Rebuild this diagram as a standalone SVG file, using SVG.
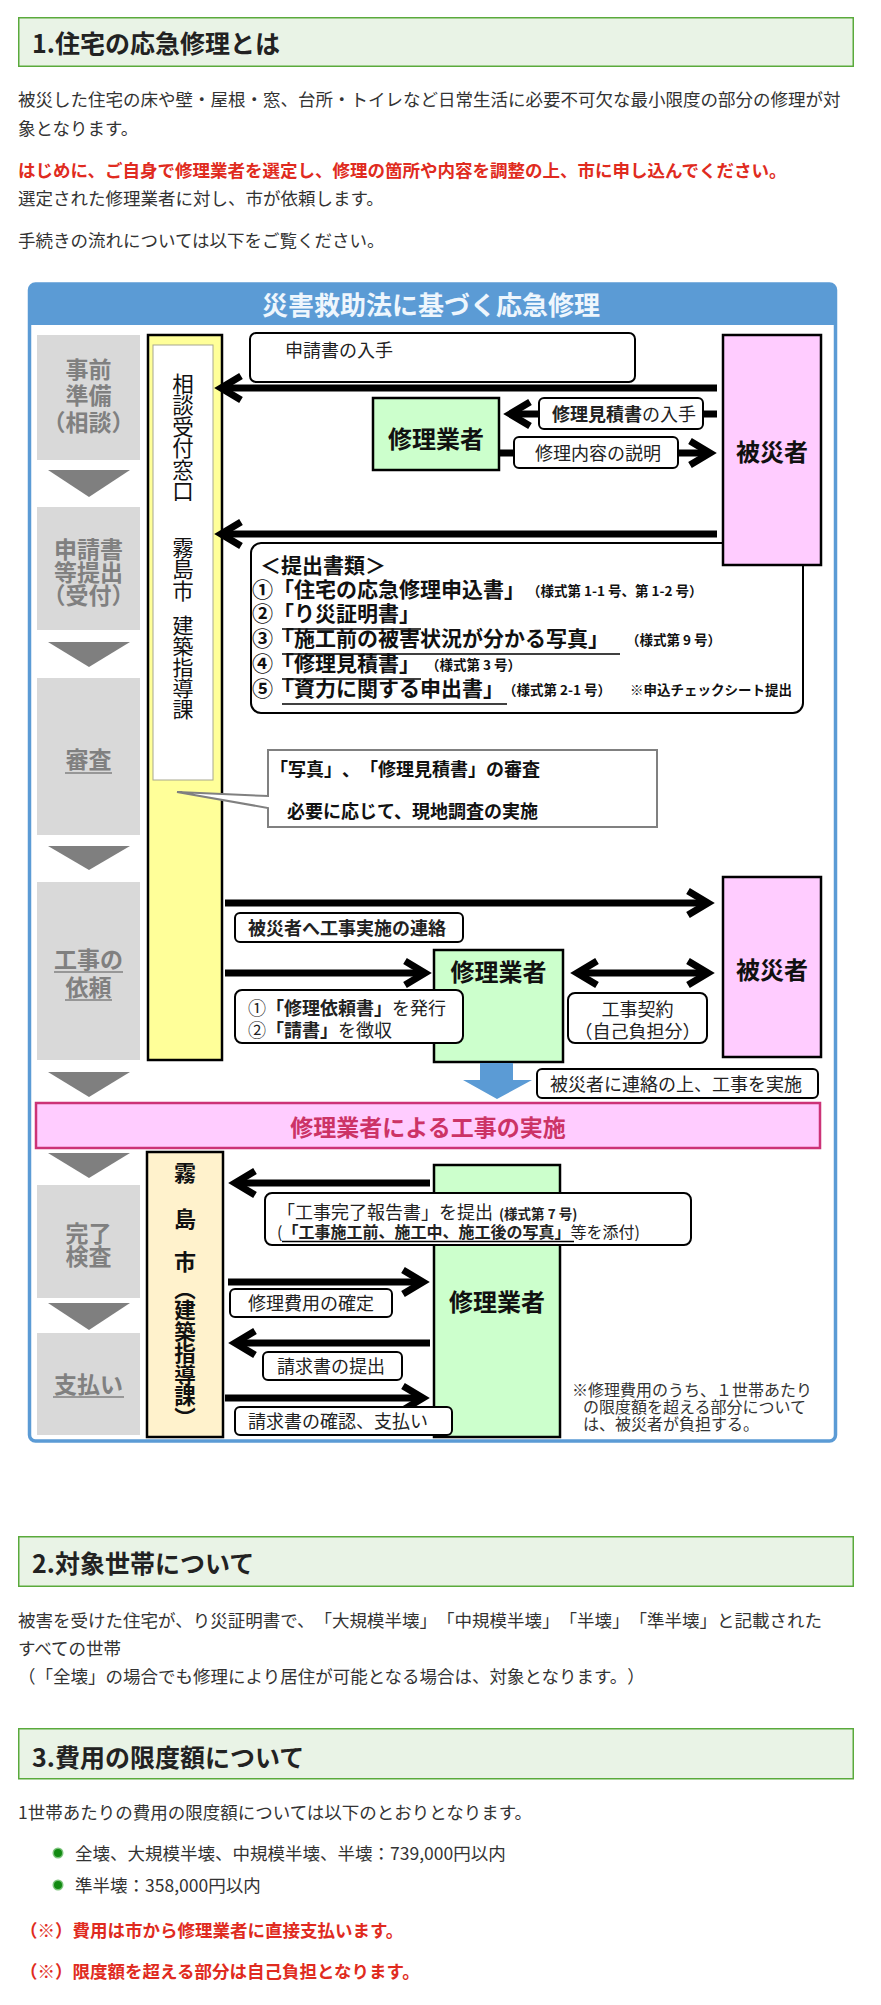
<svg xmlns="http://www.w3.org/2000/svg" width="881" height="2005" viewBox="0 0 881 2005">
<style>
text{font-family:"Noto Sans CJK JP","Noto Sans CJK SC",sans-serif;text-spacing-trim:space-all;}
.body{font-size:17.5px;fill:#333;}
.red{font-size:17.5px;fill:#e02b20;font-weight:700;}
.h{font-size:25px;font-weight:700;fill:#222;}
.hbox{fill:#e9f3e6;stroke:#5aaa3c;stroke-width:1.5;}
.step{fill:#d9d9d9;}
.steptx{font-size:23px;font-weight:700;fill:#808080;text-anchor:middle;}
.sul{stroke:#808080;stroke-width:1.6;}
.tri{fill:#7f7f7f;}
.lbl{fill:#fff;stroke:#000;stroke-width:2;}
.lt{font-size:18px;fill:#222;}
.b{font-weight:700;}
.conn{fill:none;stroke:#000;stroke-width:7;}
.green{fill:#ccffcc;stroke:#000;stroke-width:2.5;}
.pink{fill:#ffccff;stroke:#000;stroke-width:2.5;}
.actor{font-size:24px;font-weight:700;fill:#111;text-anchor:middle;}
.vt{writing-mode:vertical-rl;fill:#111;}
.doc{font-size:21px;font-weight:700;fill:#111;}
.sm{font-size:13.5px;font-weight:700;fill:#111;}
.ul{stroke:#000;stroke-width:1.6;}
.note{font-size:16px;fill:#333;}
</style>
<defs>
<marker id="ah" markerUnits="userSpaceOnUse" viewBox="-24 -18 36 36" refX="0" refY="0" markerWidth="36" markerHeight="36" orient="auto-start-reverse">
<path d="M-17,-12 L3,0 L-17,12" fill="none" stroke="#000" stroke-width="7"/>
</marker>
</defs>
<rect width="881" height="2005" fill="#fff"/>

<g id="section1">
<rect class="hbox" x="18.75" y="17.75" width="834.5" height="48.5"/>
<text class="h" x="32" y="53">1.住宅の応急修理とは</text>
<text class="body" x="18" y="106">被災した住宅の床や壁・屋根・窓、台所・トイレなど日常生活に必要不可欠な最小限度の部分の修理が対</text>
<text class="body" x="18" y="135">象となります。</text>
<text class="red" x="18" y="177">はじめに、ご自身で修理業者を選定し、修理の箇所や内容を調整の上、市に申し込んでください。</text>
<text class="body" x="18" y="205">選定された修理業者に対し、市が依頼します。</text>
<text class="body" x="18" y="247">手続きの流れについては以下をご覧ください。</text>
</g>

<g id="frame">
<rect x="29.5" y="284" width="806" height="1157" rx="6" fill="#fff" stroke="#5b9bd5" stroke-width="3.5"/>
<path d="M29.5,325 V290 Q29.5,284 35.5,284 H829.5 Q835.5,284 835.5,290 V325 Z" fill="#5b9bd5"/>
<text x="431" y="315" font-size="26" font-weight="700" fill="#eef6fd" text-anchor="middle">災害救助法に基づく応急修理</text>
</g>

<g id="steps">
<rect class="step" x="37" y="335" width="103" height="125"/>
<text class="steptx" x="88.5" y="378">事前</text>
<text class="steptx" x="88.5" y="404">準備</text>
<text class="steptx" x="88.5" y="431">（相談）</text>
<polygon class="tri" points="48,470 130,470 89,497"/>
<rect class="step" x="37" y="507" width="103" height="123"/>
<text class="steptx" x="88.5" y="558">申請書</text>
<text class="steptx" x="88.5" y="581">等提出</text>
<text class="steptx" x="88.5" y="604">（受付）</text>
<polygon class="tri" points="48,642 130,642 89,667"/>
<rect class="step" x="37" y="678" width="103" height="157"/>
<text class="steptx" x="88.5" y="768">審査</text>
<line class="sul" x1="65" y1="773" x2="112" y2="773"/>
<polygon class="tri" points="48,846 130,846 89,870"/>
<rect class="step" x="37" y="882" width="103" height="178"/>
<text class="steptx" x="88.5" y="968">工事の</text>
<line class="sul" x1="54" y1="972" x2="123" y2="972"/>
<text class="steptx" x="88.5" y="996">依頼</text>
<line class="sul" x1="65" y1="1000" x2="112" y2="1000"/>
<polygon class="tri" points="48,1072 130,1072 89,1097"/>
<polygon class="tri" points="48,1153 130,1153 89,1178"/>
<rect class="step" x="37" y="1185" width="103" height="113"/>
<text class="steptx" x="88.5" y="1242">完了</text>
<text class="steptx" x="88.5" y="1265">検査</text>
<polygon class="tri" points="48,1303 130,1303 89,1330"/>
<rect class="step" x="37" y="1333" width="103" height="102"/>
<text class="steptx" x="88.5" y="1393">支払い</text>
<line class="sul" x1="53" y1="1397" x2="124" y2="1397"/>
</g>

<g id="window-column">
<rect x="148" y="335" width="74" height="725" fill="#ffff99" stroke="#000" stroke-width="2.5"/>
<rect x="153" y="345" width="60" height="435" fill="#fff" stroke="#a8a890" stroke-width="1"/>
<text class="vt" x="183" y="373" font-size="21.5">相談受付窓口</text>
<text class="vt" x="183" y="537" font-size="21.5">霧島市</text>
<text class="vt" x="183" y="615" font-size="21">建築指導課</text>
</g>

<g id="city-column">
<rect x="147" y="1152" width="76" height="285" fill="#fff2cc" stroke="#000" stroke-width="2.5"/>
<text class="vt" x="185" y="1162" font-size="22" font-weight="700">霧</text>
<text class="vt" x="185" y="1208" font-size="22" font-weight="700">島</text>
<text class="vt" x="185" y="1251" font-size="22" font-weight="700">市</text>
<text class="vt" x="185" y="1278" font-size="21.5" font-weight="700">（建築指導課）</text>
</g>

<g id="contractor-1">
<rect class="green" x="373" y="398" width="126" height="72"/>
<text class="actor" x="436" y="448">修理業者</text>
</g>
<g id="contractor-2">
<rect class="green" x="434" y="950" width="129" height="112"/>
<text class="actor" x="498.5" y="981">修理業者</text>
</g>
<g id="victim-2">
<rect class="pink" x="723" y="877" width="98" height="180"/>
<text class="actor" x="772" y="979">被災者</text>
</g>
<g id="contractor-3">
<rect class="green" x="434" y="1165" width="126" height="272"/>
<text class="actor" x="497" y="1311">修理業者</text>
</g>

<g id="docs">
<rect x="251" y="543" width="552" height="170" rx="10" fill="#fff" stroke="#000" stroke-width="2"/>
<text class="doc" x="260" y="573">＜提出書類＞</text>
<text class="doc" x="252" y="597">①「住宅の応急修理申込書」</text>
<text class="sm" x="527" y="596">（様式第 1-1 号、第 1-2 号）</text>
<text class="doc" x="252" y="621">②「り災証明書」</text>
<line class="ul" x1="282" y1="629" x2="421" y2="629"/>
<text class="doc" x="252" y="646">③「施工前の被害状況が分かる写真」</text>
<line class="ul" x1="282" y1="654" x2="620" y2="654"/>
<text class="sm" x="626" y="645">（様式第 9 号）</text>
<text class="doc" x="252" y="671">④「修理見積書」</text>
<line class="ul" x1="282" y1="679" x2="421" y2="679"/>
<text class="sm" x="426" y="670">（様式第 3 号）</text>
<text class="doc" x="252" y="696">⑤「資力に関する申出書」</text>
<line class="ul" x1="282" y1="704" x2="507" y2="704"/>
<text class="sm" x="503" y="695">（様式第 2-1 号）</text>
<text class="sm" x="630" y="695">※申込チェックシート提出</text>
</g>
<g id="victim-1">
<rect class="pink" x="723" y="335" width="98" height="230"/>
<text class="actor" x="772" y="461">被災者</text>
</g>

<g id="callout">
<path d="M268,750 H657 V827 H268 V808 L177,792 L268,796 Z" fill="#fff" stroke="#808080" stroke-width="2"/>
<text x="270" y="776" font-size="18" font-weight="700" fill="#111">「写真」、「修理見積書」の審査</text>
<text x="287" y="818" font-size="18" font-weight="700" fill="#111">必要に応じて、現地調査の実施</text>
</g>

<g id="connectors">
<path class="conn" d="M717,388 H224" marker-end="url(#ah)"/>
<path class="conn" d="M717,414 H513" marker-end="url(#ah)"/>
<path class="conn" d="M500,453 H707" marker-end="url(#ah)"/>
<path class="conn" d="M717,534 H224" marker-end="url(#ah)"/>
<path class="conn" d="M225,903 H705" marker-end="url(#ah)"/>
<path class="conn" d="M225,973 H422" marker-end="url(#ah)"/>
<path class="conn" d="M580,973 H705" marker-start="url(#ah)" marker-end="url(#ah)"/>
<polygon points="480,1063 513,1063 513,1080 532,1080 497,1099 463,1080 480,1080" fill="#5b9bd5"/>
<path class="conn" d="M430,1183 H238" marker-end="url(#ah)"/>
<path class="conn" d="M228,1282 H420" marker-end="url(#ah)"/>
<path class="conn" d="M430,1343 H238" marker-end="url(#ah)"/>
<path class="conn" d="M225,1398 H420" marker-end="url(#ah)"/>
</g>

<g id="label-obtain">
<rect class="lbl" x="250" y="333" width="385" height="49" rx="6"/>
<text class="lt" x="285" y="357">申請書の入手</text>
</g>
<g id="label-estimate">
<rect class="lbl" x="539" y="398" width="164" height="31" rx="5"/>
<text class="lt" x="552" y="421"><tspan class="b">修理見積書</tspan>の入手</text>
</g>
<g id="label-explain">
<rect class="lbl" x="514" y="437" width="164" height="31" rx="5"/>
<text class="lt" x="535" y="460">修理内容の説明</text>
</g>
<g id="label-notify">
<rect class="lbl" x="235" y="913" width="228" height="29" rx="5"/>
<text class="lt b" x="248" y="935">被災者へ工事実施の連絡</text>
</g>
<g id="label-order">
<rect class="lbl" x="235" y="990" width="228" height="53" rx="7"/>
<text class="lt" x="248" y="1015">①<tspan class="b">「修理依頼書」</tspan>を発行</text>
<text class="lt" x="248" y="1037">②<tspan class="b">「請書」</tspan>を徴収</text>
</g>
<g id="label-contract">
<rect class="lbl" x="568" y="993" width="139" height="50" rx="7"/>
<text class="lt" x="637.5" y="1016" text-anchor="middle">工事契約</text>
<text class="lt" x="637.5" y="1038" text-anchor="middle" font-size="17">（自己負担分）</text>
</g>
<g id="label-work">
<rect class="lbl" x="537" y="1069" width="281" height="29" rx="5"/>
<text class="lt" x="550" y="1091">被災者に連絡の上、工事を実施</text>
</g>

<g id="implementation-bar">
<rect x="36" y="1103" width="784" height="45" fill="#ffccff" stroke="#cc3377" stroke-width="2.5"/>
<text x="428" y="1136" font-size="23" font-weight="700" fill="#cc3366" text-anchor="middle">修理業者による工事の実施</text>
</g>

<g id="label-report">
<rect class="lbl" x="265" y="1193" width="426" height="52" rx="7"/>
<text class="lt" x="277" y="1219" font-size="17.5">「工事完了報告書」を提出<tspan class="b" font-size="13.5" dx="6">(様式第 7 号)</tspan></text>
<text x="277" y="1238" font-size="16" fill="#222">(<tspan class="b">「工事施工前、施工中、施工後の写真」</tspan>等を添付)</text>
<line class="ul" x1="282" y1="1241.5" x2="574" y2="1241.5"/>
</g>
<g id="label-cost">
<rect class="lbl" x="230" y="1289" width="162" height="28" rx="5"/>
<text class="lt" x="248" y="1310">修理費用の確定</text>
</g>
<g id="label-invoice">
<rect class="lbl" x="263" y="1352" width="139" height="28" rx="5"/>
<text class="lt" x="277" y="1373">請求書の提出</text>
</g>
<g id="label-pay">
<rect class="lbl" x="235" y="1407" width="217" height="28" rx="5"/>
<text class="lt" x="248" y="1428">請求書の確認、支払い</text>
</g>
<g id="note">
<text class="note" x="572" y="1396">※修理費用のうち、１世帯あたり</text>
<text class="note" x="583" y="1413">の限度額を超える部分について</text>
<text class="note" x="583" y="1430">は、被災者が負担する。</text>
</g>

<g id="section2">
<rect class="hbox" x="18.75" y="1536.75" width="834.5" height="49.5"/>
<text class="h" x="32" y="1573">2.対象世帯について</text>
<text class="body" x="18" y="1627">被害を受けた住宅が、り災証明書で、「大規模半壊」「中規模半壊」「半壊」「準半壊」と記載された</text>
<text class="body" x="18" y="1655">すべての世帯</text>
<text class="body" x="18" y="1683">（「全壊」の場合でも修理により居住が可能となる場合は、対象となります。）</text>
</g>

<g id="section3">
<rect class="hbox" x="18.75" y="1728.75" width="834.5" height="50"/>
<text class="h" x="32" y="1767">3.費用の限度額について</text>
<text class="body" x="18" y="1819">1世帯あたりの費用の限度額については以下のとおりとなります。</text>
<circle cx="58" cy="1853" r="5.5" fill="#7cc47c"/>
<circle cx="58" cy="1853" r="4" fill="#128a12"/>
<text class="body" x="75" y="1860">全壊、大規模半壊、中規模半壊、半壊：739,000円以内</text>
<circle cx="58" cy="1885" r="5.5" fill="#7cc47c"/>
<circle cx="58" cy="1885" r="4" fill="#128a12"/>
<text class="body" x="75" y="1892">準半壊：358,000円以内</text>
<text class="red" x="20" y="1937">（※）費用は市から修理業者に直接支払います。</text>
<text class="red" x="20" y="1978">（※）限度額を超える部分は自己負担となります。</text>
</g>
</svg>
